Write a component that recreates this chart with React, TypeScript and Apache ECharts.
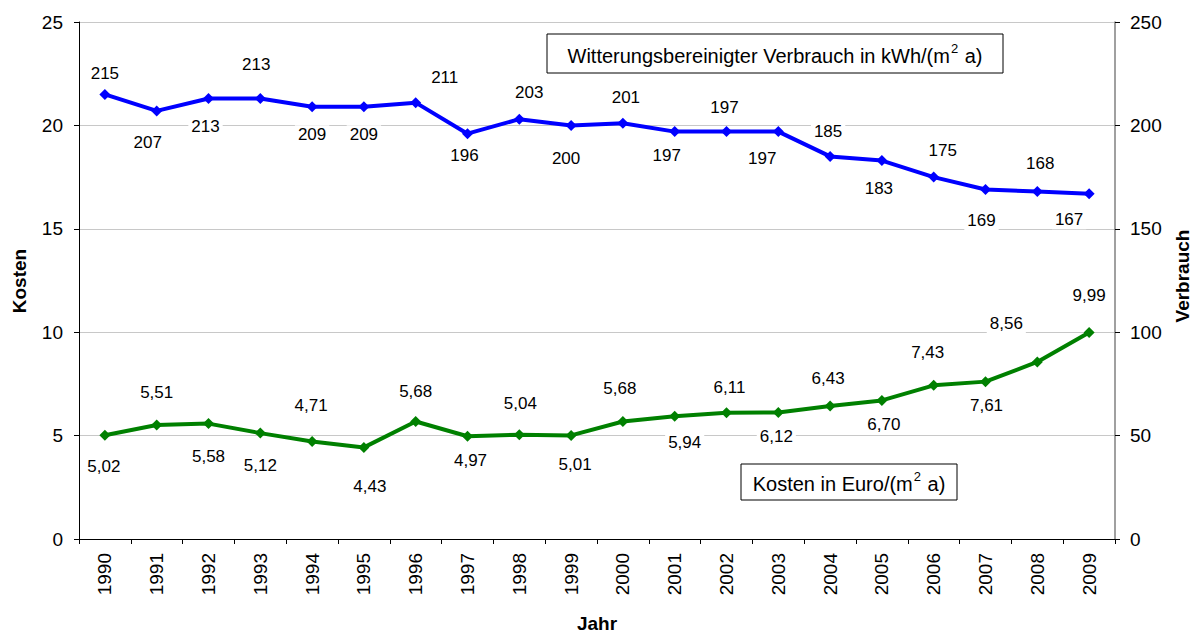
import React, { useEffect, useRef } from "react";
import * as echarts from "echarts";

const years = ["1990","1991","1992","1993","1994","1995","1996","1997","1998","1999","2000","2001","2002","2003","2004","2005","2006","2007","2008","2009"];
const verbrauch = [215, 207, 213, 213, 209, 209, 211, 196, 203, 200, 201, 197, 197, 197, 185, 183, 175, 169, 168, 167];
const kosten = [5.02, 5.51, 5.58, 5.12, 4.71, 4.43, 5.68, 4.97, 5.04, 5.01, 5.68, 5.94, 6.11, 6.12, 6.43, 6.70, 7.43, 7.61, 8.56, 9.99];
const kostenTicks = [0, 5, 10, 15, 20, 25];
const verbrauchTicks = [0, 50, 100, 150, 200, 250];

// label placement (styling only)
const verbrauchLabelOffsets: [number, number][] = [
  [0, -21], [-9, 32], [-3, 28], [-4, -34], [0, 28], [0, 28], [29, -25], [-3, 22], [10, -27], [-5, 33],
  [3, -26], [-8, 24], [-2, -24], [-16, 27], [-2, -25], [-3, 28], [9, -27], [-4, 31], [3, -28], [-20, 26],
];
const kostenLabelOffsets: [number, number][] = [
  [-1, 31], [0, -33], [0, 33], [0, 32], [-1, -36], [6, 39], [0, -30], [3, 24], [1, -31], [4, 29],
  [-3, -33], [10, 26], [3, -25], [-2, 24], [-2, -28], [2, 24], [-6, -33], [1, 24], [-31, -38], [0, -37],
];

const FONT = "'Liberation Sans', Arial, sans-serif";

export default function App() {
  const ref = useRef<HTMLDivElement>(null);
  useEffect(() => {
    if (!ref.current) return;
    const chart = echarts.init(ref.current, undefined, { renderer: "svg" });
    const labelBase = {
      show: true,
      position: "inside" as const,
      color: "#000",
      fontSize: 17,
      fontFamily: FONT,
      backgroundColor: "#fff",
      padding: [1, 3],
    };
    const boxRich = {
      n: { fontSize: 20, fontFamily: FONT, fill: "#000", verticalAlign: "bottom", lineHeight: 24 },
      s: { fontSize: 13, fontFamily: FONT, fill: "#000", verticalAlign: "top", lineHeight: 24, padding: [0, 1, 8, 1] },
    };
    chart.setOption({
      animation: false,
      backgroundColor: "#fff",
      grid: { left: 79, right: 79, top: 22, bottom: 96, containLabel: false },
      xAxis: {
        type: "category",
        data: years,
        boundaryGap: true,
        axisLine: { lineStyle: { color: "#000", width: 1 } },
        axisTick: { show: true, interval: 0, length: 5, lineStyle: { color: "#000" } },
        axisLabel: { rotate: 90, interval: 0, margin: 14, fontSize: 19, color: "#000", fontFamily: FONT },
        splitLine: { show: false },
      },
      yAxis: [
        {
          type: "value",
          min: kostenTicks[0],
          max: kostenTicks[kostenTicks.length - 1],
          interval: 5,
          position: "left",
          axisLine: { show: true, lineStyle: { color: "#000", width: 1 } },
          axisTick: { show: true, length: 5, lineStyle: { color: "#000" } },
          axisLabel: { margin: 16, fontSize: 19, color: "#000", fontFamily: FONT },
          splitLine: { show: true, lineStyle: { color: "#c8c8c8", width: 1 } },
        },
        {
          type: "value",
          min: verbrauchTicks[0],
          max: verbrauchTicks[verbrauchTicks.length - 1],
          interval: 50,
          position: "right",
          axisLine: { show: true, lineStyle: { color: "#808080", width: 1.5 } },
          axisTick: { show: true, length: 5, lineStyle: { color: "#000" } },
          axisLabel: { margin: 15, fontSize: 19, color: "#000", fontFamily: FONT },
          splitLine: { show: false },
        },
      ],
      series: [
        {
          name: "Verbrauch",
          type: "line",
          yAxisIndex: 1,
          data: verbrauch.map((v, i) => ({
            value: v,
            label: { ...labelBase, offset: verbrauchLabelOffsets[i], formatter: String(v) },
          })),
          lineStyle: { color: "#0000ff", width: 4 },
          itemStyle: { color: "#0000ff" },
          symbol: "diamond",
          symbolSize: 11,
          z: 3,
        },
        {
          name: "Kosten",
          type: "line",
          yAxisIndex: 0,
          data: kosten.map((v, i) => ({
            value: v,
            label: { ...labelBase, offset: kostenLabelOffsets[i], formatter: v.toFixed(2).replace(".", ",") },
          })),
          lineStyle: { color: "#008000", width: 4 },
          itemStyle: { color: "#008000" },
          symbol: "diamond",
          symbolSize: 11,
          z: 3,
        },
      ],
      graphic: [
        {
          type: "rect",
          shape: { x: 547, y: 34, width: 456, height: 39 },
          style: { fill: "#fff", stroke: "#000", lineWidth: 1 },
          z: 10,
        },
        {
          type: "text",
          x: 775,
          y: 53.5,
          z: 11,
          style: {
            text: "{n|Witterungsbereinigter Verbrauch in kWh/(m}{s|2}{n| a)}",
            align: "center",
            verticalAlign: "middle",
            rich: boxRich,
          },
        },
        {
          type: "rect",
          shape: { x: 741, y: 464, width: 216, height: 36 },
          style: { fill: "#fff", stroke: "#000", lineWidth: 1 },
          z: 10,
        },
        {
          type: "text",
          x: 849,
          y: 482,
          z: 11,
          style: {
            text: "{n|Kosten in Euro/(m}{s|2}{n| a)}",
            align: "center",
            verticalAlign: "middle",
            rich: boxRich,
          },
        },
        {
          type: "text",
          x: 19,
          y: 281,
          rotation: Math.PI / 2,
          style: { text: "Kosten", fontSize: 19, fontWeight: "bold", fontFamily: FONT, fill: "#000", align: "center", verticalAlign: "middle" },
        },
        {
          type: "text",
          x: 1182,
          y: 276,
          rotation: Math.PI / 2,
          style: { text: "Verbrauch", fontSize: 19, fontWeight: "bold", fontFamily: FONT, fill: "#000", align: "center", verticalAlign: "middle" },
        },
        {
          type: "text",
          x: 597,
          y: 623,
          style: { text: "Jahr", fontSize: 19, fontWeight: "bold", fontFamily: FONT, fill: "#000", align: "center", verticalAlign: "middle" },
        },
      ],
    });
    return () => chart.dispose();
  }, []);
  return <div ref={ref} style={{ position: "fixed", left: 0, top: 0, width: 1194, height: 635 }} />;
}
